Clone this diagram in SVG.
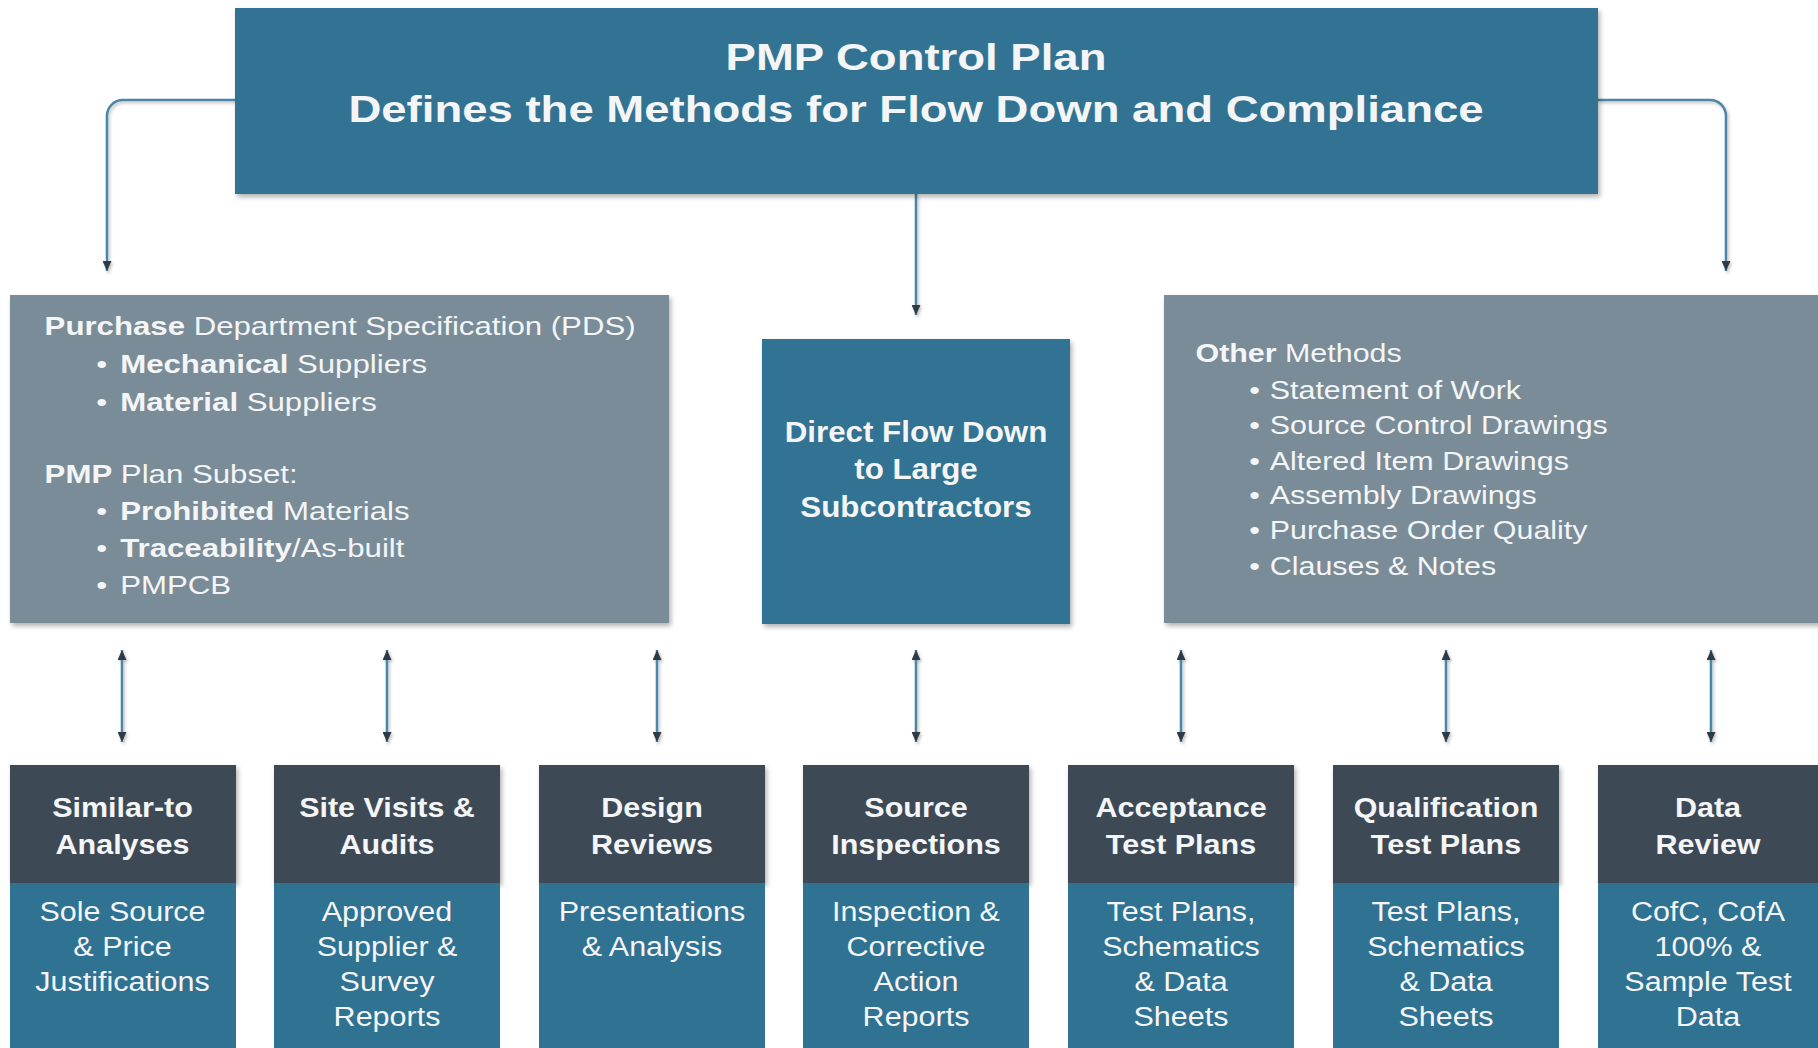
<svg xmlns="http://www.w3.org/2000/svg" width="1818" height="1048" viewBox="0 0 1818 1048">
<defs>
<filter id="sh" x="-5%" y="-5%" width="110%" height="115%">
<feDropShadow dx="2" dy="3" stdDeviation="2.5" flood-color="#000" flood-opacity="0.3"/>
</filter>
<filter id="lsh" x="-20%" y="-20%" width="140%" height="140%">
<feDropShadow dx="1.5" dy="2" stdDeviation="1.5" flood-color="#000" flood-opacity="0.25"/>
</filter>
<marker id="ah" viewBox="0 0 10 9" refX="10" refY="4.5" markerWidth="10" markerHeight="9" markerUnits="userSpaceOnUse" orient="auto-start-reverse">
<path d="M0,0 L10,4.5 L0,9 z" fill="#2f3a44"/>
</marker>
<style>
.top{fill:#317393}
.gray{fill:#7a8c98}
.hdr{fill:#3e4a54}
.body{fill:#307292}
.t{font-family:"Liberation Sans",Arial,sans-serif;fill:#f4f5f6}
.b{font-weight:bold}
.title{font-size:37px;font-weight:bold;text-anchor:middle}
.list{font-size:26px}
.ctr{font-size:29px;font-weight:bold;text-anchor:middle}
.h{font-size:28px;font-weight:bold;text-anchor:middle}
.bt{font-size:28px;text-anchor:middle}
.conn{fill:none;stroke:#4a86a8;stroke-width:2.5}
</style>
</defs>
<rect width="1818" height="1048" fill="#ffffff"/>

<g id="connectors" filter="url(#lsh)">
<path class="conn" d="M235,100 H123 A16,16 0 0 0 107,116 V271" marker-end="url(#ah)"/>
<path class="conn" d="M1598,100 H1710 A16,16 0 0 1 1726,116 V271" marker-end="url(#ah)"/>
<path class="conn" d="M916,194 V315" marker-end="url(#ah)"/>
<path class="conn" d="M122,650 V742" marker-start="url(#ah)" marker-end="url(#ah)"/>
<path class="conn" d="M387,650 V742" marker-start="url(#ah)" marker-end="url(#ah)"/>
<path class="conn" d="M657,650 V742" marker-start="url(#ah)" marker-end="url(#ah)"/>
<path class="conn" d="M916,650 V742" marker-start="url(#ah)" marker-end="url(#ah)"/>
<path class="conn" d="M1181,650 V742" marker-start="url(#ah)" marker-end="url(#ah)"/>
<path class="conn" d="M1446,650 V742" marker-start="url(#ah)" marker-end="url(#ah)"/>
<path class="conn" d="M1711,650 V742" marker-start="url(#ah)" marker-end="url(#ah)"/>
</g>

<g id="top">
<rect class="top" x="235" y="8" width="1363" height="186" filter="url(#sh)"/>
<g transform="translate(916,0) scale(1.23,1)">
<text class="t title" x="0" y="70">PMP Control Plan</text>
<text class="t title" x="0" y="122">Defines the Methods for Flow Down and Compliance</text>
</g>
</g>

<g id="pds">
<rect class="gray" x="10" y="295" width="659" height="328" filter="url(#sh)"/>
<g transform="translate(44.6,0) scale(1.2,1)">
<text class="t list" x="0" y="335"><tspan class="b">Purchase</tspan> Department Specification (PDS)</text>
<text class="t list" x="43" y="373">•</text>
<text class="t list" x="63" y="373"><tspan class="b">Mechanical</tspan> Suppliers</text>
<text class="t list" x="43" y="411">•</text>
<text class="t list" x="63" y="411"><tspan class="b">Material</tspan> Suppliers</text>
<text class="t list" x="0" y="483"><tspan class="b">PMP</tspan> Plan Subset:</text>
<text class="t list" x="43" y="520">•</text>
<text class="t list" x="63" y="520"><tspan class="b">Prohibited</tspan> Materials</text>
<text class="t list" x="43" y="557">•</text>
<text class="t list" x="63" y="557"><tspan class="b">Traceability</tspan>/As-built</text>
<text class="t list" x="43" y="594">•</text>
<text class="t list" x="63" y="594">PMPCB</text>
</g>
</g>

<g id="direct">
<rect class="top" x="762" y="339" width="308" height="285" filter="url(#sh)"/>
<g transform="translate(916,0) scale(1.08,1)">
<text class="t ctr" x="0" y="442">Direct Flow Down</text>
<text class="t ctr" x="0" y="479">to Large</text>
<text class="t ctr" x="0" y="517">Subcontractors</text>
</g>
</g>

<g id="other">
<rect class="gray" x="1164" y="295" width="660" height="328" filter="url(#sh)"/>
<g transform="translate(1195.5,0) scale(1.17,1)">
<text class="t list" x="0" y="362"><tspan class="b">Other</tspan> Methods</text>
<text class="t list" x="46" y="399">•</text>
<text class="t list" x="63.5" y="399">Statement of Work</text>
<text class="t list" x="46" y="434">•</text>
<text class="t list" x="63.5" y="434">Source Control Drawings</text>
<text class="t list" x="46" y="470">•</text>
<text class="t list" x="63.5" y="470">Altered Item Drawings</text>
<text class="t list" x="46" y="504">•</text>
<text class="t list" x="63.5" y="504">Assembly Drawings</text>
<text class="t list" x="46" y="539">•</text>
<text class="t list" x="63.5" y="539">Purchase Order Quality</text>
<text class="t list" x="46" y="575">•</text>
<text class="t list" x="63.5" y="575">Clauses &amp; Notes</text>
</g>
</g>

<g id="similar">
<rect class="hdr" x="10" y="765" width="226" height="118" filter="url(#sh)"/>
<rect class="body" x="10" y="883" width="226" height="170"/>
<g transform="translate(122.5,0) scale(1.09,1)">
<text class="t h" x="0" y="817">Similar-to</text>
<text class="t h" x="0" y="854">Analyses</text>
<text class="t bt" x="0" y="921">Sole Source</text>
<text class="t bt" x="0" y="956">&amp; Price</text>
<text class="t bt" x="0" y="991">Justifications</text>
</g>
</g>

<g id="site">
<rect class="hdr" x="274" y="765" width="226" height="118" filter="url(#sh)"/>
<rect class="body" x="274" y="883" width="226" height="170"/>
<g transform="translate(387,0) scale(1.09,1)">
<text class="t h" x="0" y="817">Site Visits &amp;</text>
<text class="t h" x="0" y="854">Audits</text>
<text class="t bt" x="0" y="921">Approved</text>
<text class="t bt" x="0" y="956">Supplier &amp;</text>
<text class="t bt" x="0" y="991">Survey</text>
<text class="t bt" x="0" y="1026">Reports</text>
</g>
</g>

<g id="design">
<rect class="hdr" x="539" y="765" width="226" height="118" filter="url(#sh)"/>
<rect class="body" x="539" y="883" width="226" height="170"/>
<g transform="translate(652,0) scale(1.09,1)">
<text class="t h" x="0" y="817">Design</text>
<text class="t h" x="0" y="854">Reviews</text>
<text class="t bt" x="0" y="921">Presentations</text>
<text class="t bt" x="0" y="956">&amp; Analysis</text>
</g>
</g>

<g id="source">
<rect class="hdr" x="803" y="765" width="226" height="118" filter="url(#sh)"/>
<rect class="body" x="803" y="883" width="226" height="170"/>
<g transform="translate(916,0) scale(1.09,1)">
<text class="t h" x="0" y="817">Source</text>
<text class="t h" x="0" y="854">Inspections</text>
<text class="t bt" x="0" y="921">Inspection &amp;</text>
<text class="t bt" x="0" y="956">Corrective</text>
<text class="t bt" x="0" y="991">Action</text>
<text class="t bt" x="0" y="1026">Reports</text>
</g>
</g>

<g id="acceptance">
<rect class="hdr" x="1068" y="765" width="226" height="118" filter="url(#sh)"/>
<rect class="body" x="1068" y="883" width="226" height="170"/>
<g transform="translate(1181,0) scale(1.09,1)">
<text class="t h" x="0" y="817">Acceptance</text>
<text class="t h" x="0" y="854">Test Plans</text>
<text class="t bt" x="0" y="921">Test Plans,</text>
<text class="t bt" x="0" y="956">Schematics</text>
<text class="t bt" x="0" y="991">&amp; Data</text>
<text class="t bt" x="0" y="1026">Sheets</text>
</g>
</g>

<g id="qualification">
<rect class="hdr" x="1333" y="765" width="226" height="118" filter="url(#sh)"/>
<rect class="body" x="1333" y="883" width="226" height="170"/>
<g transform="translate(1446,0) scale(1.09,1)">
<text class="t h" x="0" y="817">Qualification</text>
<text class="t h" x="0" y="854">Test Plans</text>
<text class="t bt" x="0" y="921">Test Plans,</text>
<text class="t bt" x="0" y="956">Schematics</text>
<text class="t bt" x="0" y="991">&amp; Data</text>
<text class="t bt" x="0" y="1026">Sheets</text>
</g>
</g>

<g id="data">
<rect class="hdr" x="1598" y="765" width="226" height="118" filter="url(#sh)"/>
<rect class="body" x="1598" y="883" width="226" height="170"/>
<g transform="translate(1708,0) scale(1.09,1)">
<text class="t h" x="0" y="817">Data</text>
<text class="t h" x="0" y="854">Review</text>
<text class="t bt" x="0" y="921">CofC, CofA</text>
<text class="t bt" x="0" y="956">100% &amp;</text>
<text class="t bt" x="0" y="991">Sample Test</text>
<text class="t bt" x="0" y="1026">Data</text>
</g>
</g>
</svg>
